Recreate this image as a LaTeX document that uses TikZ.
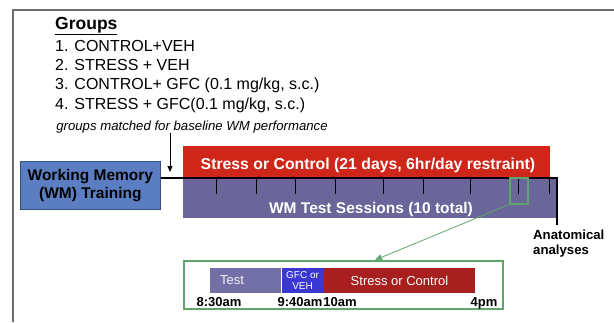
\documentclass[tikz,border=0pt]{standalone}
\usepackage{fontspec}
\setmainfont{Liberation Sans}
\usepackage{tikz}
\usetikzlibrary{positioning, arrows.meta, calc}
\definecolor{framegray}{HTML}{6E6E6E}
\definecolor{trainblue}{HTML}{5B7EC2}
\definecolor{trainedge}{HTML}{34507F}
\definecolor{stressred}{HTML}{CE2619}
\definecolor{sessionpurple}{HTML}{6A6699}
\definecolor{zoomgreen}{HTML}{5FA66C}
\definecolor{slotpurple}{HTML}{7270A6}
\definecolor{slotblue}{HTML}{3A37D2}
\definecolor{slotred}{HTML}{A81F1F}

\tikzset{
  txt/.style={inner sep=0pt, anchor=base west},
  grouptxt/.style={txt, font=\fontsize{16}{16}\selectfont},
  boxbar/.style={anchor=north west, inner sep=0pt, draw=none},
  timelbl/.style={inner sep=0pt, anchor=base, font=\bfseries\fontsize{13}{13}\selectfont}
}

\begin{document}
\begin{tikzpicture}[x=1pt, y=-1pt]
  \useasboundingbox (0,0) rectangle (614,322);

  % outer frame (top and left edges only)
  \draw[framegray, line width=1.4pt] (13,322) -- (13,10) -- (614,10);

  % group list
  \node[txt, font=\bfseries\fontsize{17.5}{17.5}\selectfont] (title) at (55,29.5) {\underline{Groups}};
  \node[grouptxt] (grp1) at (55,51) {1. CONTROL+VEH};
  \node[grouptxt] (grp2) at (55,70.5) {2. STRESS + VEH};
  \node[grouptxt] (grp3) at (55,89.5) {3. CONTROL+ GFC (0.1 mg/kg, s.c.)};
  \node[grouptxt] (grp4) at (55,109) {4. STRESS + GFC(0.1 mg/kg, s.c.)};
  \node[inner sep=0pt, anchor=base, font=\itshape\fontsize{13.2}{13.2}\selectfont] (matched) at (192,130) {groups matched for baseline WM performance};

  % training box and timeline
  \node[boxbar, fill=trainblue, draw=trainedge, line width=0.8pt, minimum width=140, minimum height=48,
        align=center, font=\bfseries\fontsize{15.5}{18}\selectfont] (training) at (20,161) {Working Memory\\(WM) Training};
  \node[boxbar, fill=sessionpurple, minimum width=374, minimum height=40] (sessions) at (183,178) {};
  \node[boxbar, fill=stressred, minimum width=367, minimum height=32] (stress) at (183,146) {};
  \node[inner sep=0pt, anchor=base, text=white, font=\bfseries\fontsize{15.8}{15.8}\selectfont] (stresslbl) at (368,169) {Stress or Control (21 days, 6hr/day restraint)};
  \node[inner sep=0pt, anchor=base, text=white, font=\bfseries\fontsize{15.5}{15.5}\selectfont] (sessionlbl) at (371,213.5) {WM Test Sessions (10 total)};
  \foreach \tx in {216,256,295,335,383,423,470,518,549}
    \draw[black, line width=0.8pt] (\tx,178) -- (\tx,194);
  \coordinate (lineend) at (557,178);
  \coordinate (anatomy) at (557,225);
  \draw[black, line width=1.8pt] (training.east |- lineend) -- (lineend) -- (anatomy);
  \coordinate (arrowtip) at (170,172);
  \draw[-{Triangle[length=6pt, width=5pt]}, line width=0.8pt] (170,133) -- (arrowtip);
  \node[inner sep=0pt, align=left, anchor=north west, font=\bfseries\fontsize{13.2}{15}\selectfont] (anatlbl) at (533,229.5) {Anatomical\\analyses};

  % one test day
  \node[boxbar, draw=zoomgreen, line width=1.6pt, minimum width=18, minimum height=26] (zoombox) at (509,177) {};
  \node[boxbar, draw=zoomgreen, line width=1.8pt, minimum width=319, minimum height=48] (dayframe) at (183,260) {};
  \coordinate (daytop) at (375,260);
  \draw[zoomgreen, line width=0.8pt, -{Triangle[length=7pt, width=6pt]}] (zoombox.south west) -- (daytop);

  \node[boxbar, fill=slotpurple, minimum width=71, minimum height=25] (testslot) at (210,268) {};
  \node[boxbar, fill=slotblue, minimum width=42, minimum height=25] (gfcslot) at (testslot.north east) {};
  \node[boxbar, fill=slotred, minimum width=151, minimum height=25] (stressslot) at (gfcslot.north east) {};
  \node[inner sep=0pt, text=white!90!gray, font=\fontsize{13}{13}\selectfont] at (232,280.5) {Test};
  \node[inner sep=0pt, text=white, align=center, font=\fontsize{10}{10.5}\selectfont] at (gfcslot.center) {GFC or\\VEH};
  \node[inner sep=0pt, text=white, font=\fontsize{13}{13}\selectfont] at (stressslot.center) {Stress or Control};

  \node[timelbl] (t830) at (219,306) {8:30am};
  \node[timelbl] (t940) at (300,306) {9:40am};
  \node[timelbl] (t10) at (340,306) {10am};
  \node[timelbl] (t4) at (484,306) {4pm};
\end{tikzpicture}
\end{document}
